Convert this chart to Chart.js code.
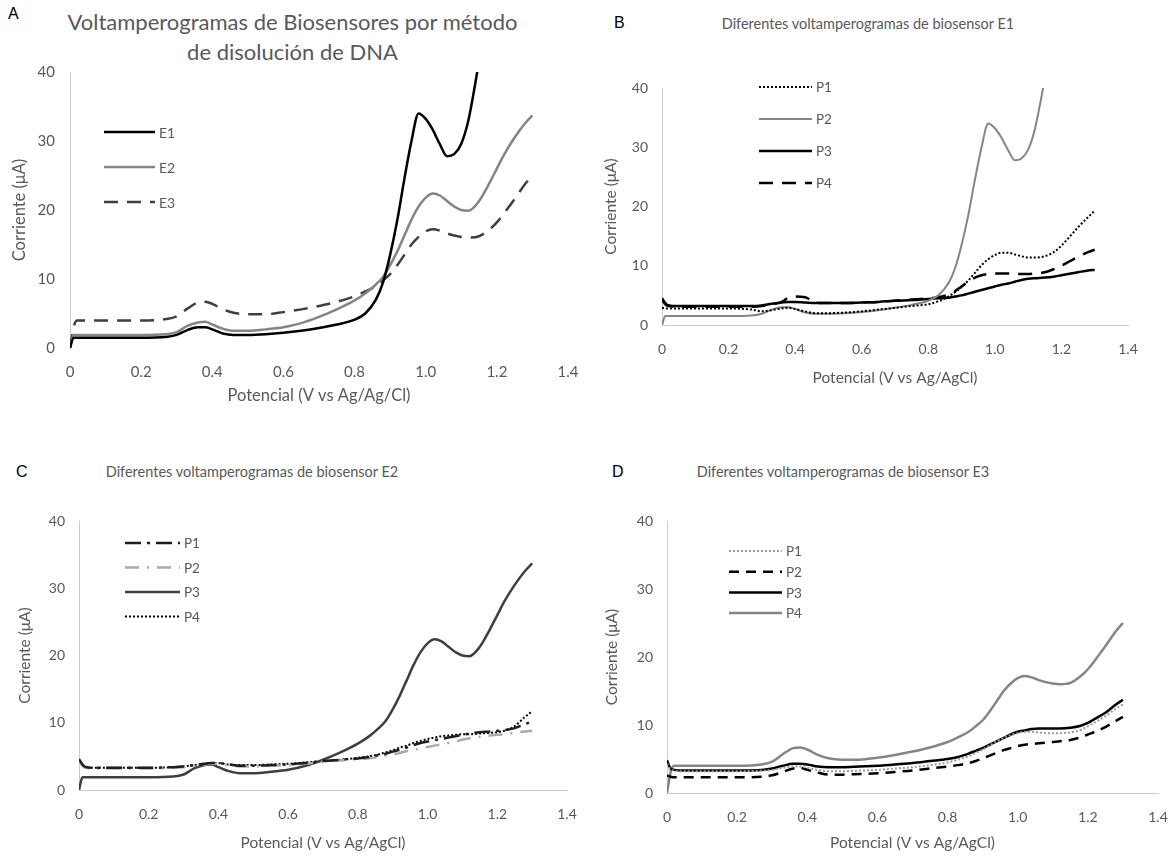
<!DOCTYPE html>
<html>
<head>
<meta charset="utf-8">
<script src="https://cdn.jsdelivr.net/npm/chart.js@4.4.1/dist/chart.umd.min.js"></script>
<style>
  body { margin: 0; width: 1170px; height: 856px; background: #fff; position: relative; overflow: hidden; font-family: Lato, sans-serif; }
  canvas { position: absolute; }
  .letter { position: absolute; font: 16px "Liberation Sans", Arial, sans-serif; color: #000; line-height: 18px; }
  .title { position: absolute; color: #595959; text-align: center; white-space: nowrap; }
</style>
</head>
<body>

<div class="letter" style="left:8px;top:5px">A</div>
<div class="letter" style="left:614px;top:14px">B</div>
<div class="letter" style="left:16px;top:463px">C</div>
<div class="letter" style="left:612px;top:463px">D</div>

<div class="title" style="left:0;width:585px;top:7px;font-size:22px;line-height:30px">Voltamperogramas de Biosensores por método<br>de disolución de DNA</div>
<div class="title" style="left:590px;width:556px;top:15px;font-size:14.5px;line-height:18px">Diferentes voltamperogramas de biosensor E1</div>
<div class="title" style="left:0;width:504px;top:463px;font-size:14.5px;line-height:18px">Diferentes voltamperogramas de biosensor E2</div>
<div class="title" style="left:590px;width:506px;top:463px;font-size:14.5px;line-height:18px">Diferentes voltamperogramas de biosensor E3</div>

<canvas id="chartA"></canvas>
<canvas id="chartB"></canvas>
<canvas id="chartC"></canvas>
<canvas id="chartD"></canvas>

<script>
// Potencial (V vs Ag/AgCl) shared by every scan
const potencial = [0, 0.01, 0.02, 0.05, 0.1, 0.2, 0.27, 0.3, 0.33, 0.36,
  0.38, 0.4, 0.43, 0.46, 0.5, 0.55, 0.6, 0.65, 0.7, 0.75,
  0.8, 0.83, 0.86, 0.88, 0.9, 0.92, 0.94, 0.96, 0.98, 1.0,
  1.02, 1.04, 1.06, 1.08, 1.1, 1.12, 1.15, 1.18, 1.2, 1.22,
  1.25, 1.28, 1.3];

// Corriente (uA) - biosensor E1
const e1p1 = [2.9, 2.8, 2.8, 2.8, 2.8, 2.8, 2.6, 2.3, 2.5, 2.8,
  2.9, 2.7, 2.3, 2.0, 2.0, 2.1, 2.3, 2.6, 2.9, 3.2,
  3.5, 4.0, 4.8, 5.5, 6.4, 7.5, 8.8, 10.1, 11.1, 11.8,
  12.2, 12.2, 11.9, 11.6, 11.4, 11.4, 11.6, 12.4, 13.4, 14.6,
  16.5, 18.2, 19.3];
const e1p2 = [0, 1.5, 1.5, 1.5, 1.5, 1.5, 1.6, 1.9, 2.6, 3.0,
  3.0, 2.7, 2.1, 1.9, 1.9, 2.0, 2.2, 2.5, 2.9, 3.4,
  4.1, 5.0, 7.0, 9.5, 13.5, 18.5, 24.5, 30.0, 34.0, 33.2,
  31.6, 29.5, 27.8, 28.1, 29.6, 33.0, 41.5, null, null, null,
  null, null, null];
const e1p3 = [4.5, 3.7, 3.3, 3.2, 3.2, 3.2, 3.2, 3.3, 3.6, 3.8,
  3.9, 3.9, 3.8, 3.7, 3.7, 3.7, 3.8, 3.9, 4.1, 4.2,
  4.4, 4.5, 4.6, 4.8, 5.0, 5.3, 5.6, 5.9, 6.2, 6.5,
  6.8, 7.0, 7.3, 7.6, 7.8, 7.9, 8.0, 8.2, 8.4, 8.6,
  8.9, 9.2, 9.3];
const e1p4 = [4.2, 3.5, 3.2, 3.1, 3.1, 3.1, 3.1, 3.2, 3.5, 3.9,
  4.6, 4.8, 4.7, 3.8, 3.7, 3.7, 3.8, 3.9, 4.1, 4.3,
  4.5, 4.7, 5.1, 5.7, 6.5, 7.3, 8.0, 8.4, 8.6, 8.7,
  8.7, 8.7, 8.6, 8.6, 8.6, 8.7, 8.9, 9.5, 10.0, 10.6,
  11.5, 12.3, 12.7];

// Corriente (uA) - biosensor E2
const e2p1 = [4.6, 3.8, 3.4, 3.3, 3.3, 3.3, 3.4, 3.5, 3.7, 3.9,
  4.0, 4.0, 3.8, 3.6, 3.6, 3.7, 3.8, 4.0, 4.3, 4.5,
  4.7, 4.9, 5.2, 5.4, 5.7, 6.0, 6.3, 6.7, 7.0, 7.2,
  7.4, 7.6, 7.8, 8.0, 8.2, 8.4, 8.6, 8.7, 8.8, 8.9,
  9.2, 9.8, 10.2];
const e2p2 = [4.4, 3.6, 3.3, 3.2, 3.2, 3.2, 3.3, 3.4, 3.6, 3.8,
  3.9, 3.9, 3.7, 3.5, 3.5, 3.6, 3.7, 3.9, 4.2, 4.4,
  4.6, 4.7, 4.9, 5.1, 5.3, 5.5, 5.8, 6.0, 6.2, 6.4,
  6.6, 6.8, 7.0, 7.2, 7.5, 7.7, 7.9, 8.1, 8.2, 8.3,
  8.5, 8.7, 8.8];
const e2p3 = [0, 1.9, 1.9, 1.9, 1.9, 1.9, 2.0, 2.3, 3.2, 3.7,
  3.8, 3.4, 2.8, 2.5, 2.5, 2.7, 3.0, 3.6, 4.5, 5.6,
  6.9, 7.9, 9.2, 10.3, 12.0, 14.0, 16.3, 18.6, 20.5, 21.8,
  22.4, 22.1, 21.3, 20.5, 20.0, 19.9, 21.3, 24.0, 26.0, 28.0,
  30.5, 32.6, 33.7];
const e2p4 = [4.5, 3.6, 3.3, 3.3, 3.3, 3.3, 3.4, 3.5, 3.7, 3.9,
  4.0, 4.0, 3.8, 3.7, 3.7, 3.8, 3.9, 4.1, 4.3, 4.5,
  4.8, 5.0, 5.3, 5.6, 5.9, 6.3, 6.6, 7.0, 7.3, 7.6,
  7.8, 8.0, 8.1, 8.2, 8.3, 8.3, 8.4, 8.5, 8.6, 8.8,
  9.5, 10.9, 11.7];

// Corriente (uA) - biosensor E3
const e3p1 = [4.3, 3.5, 3.3, 3.2, 3.2, 3.2, 3.3, 3.4, 3.7, 3.9,
  3.9, 3.7, 3.4, 3.2, 3.2, 3.3, 3.4, 3.6, 3.8, 4.1,
  4.5, 4.9, 5.4, 5.9, 6.4, 7.0, 7.6, 8.1, 8.5, 8.8,
  9.0, 9.0, 8.9, 8.8, 8.8, 8.8, 8.9, 9.3, 9.8, 10.4,
  11.3, 12.4, 13.0];
const e3p2 = [2.6, 2.4, 2.3, 2.3, 2.3, 2.3, 2.4, 2.6, 3.1, 3.6,
  3.7, 3.4, 3.0, 2.7, 2.7, 2.8, 2.9, 3.1, 3.3, 3.6,
  3.9, 4.1, 4.4, 4.7, 5.1, 5.5, 5.9, 6.3, 6.6, 6.9,
  7.1, 7.2, 7.3, 7.4, 7.5, 7.6, 7.8, 8.2, 8.6, 9.0,
  9.7, 10.6, 11.2];
const e3p3 = [4.8, 3.6, 3.4, 3.3, 3.3, 3.3, 3.4, 3.6, 4.0, 4.3,
  4.3, 4.2, 3.9, 3.8, 3.8, 3.9, 4.0, 4.2, 4.4, 4.7,
  5.0, 5.3, 5.8, 6.2, 6.6, 7.1, 7.6, 8.1, 8.6, 9.0,
  9.2, 9.4, 9.5, 9.5, 9.5, 9.5, 9.6, 9.9, 10.3, 10.9,
  11.8, 13.0, 13.7];
const e3p4 = [0, 3.0, 4.0, 4.0, 4.0, 4.0, 4.2, 4.6, 5.7, 6.6,
  6.7, 6.4, 5.6, 5.1, 4.9, 4.9, 5.2, 5.6, 6.1, 6.7,
  7.5, 8.2, 9.0, 9.8, 10.7, 12.0, 13.5, 15.0, 16.1, 16.9,
  17.2, 17.0, 16.6, 16.3, 16.1, 16.0, 16.2, 17.2, 18.2, 19.5,
  21.6, 23.8, 25.0];

// Axis ticks
const yTicks = [0, 10, 20, 30, 40];
const xTicks = [0, 0.2, 0.4, 0.6, 0.8, 1, 1.2, 1.4];

const TEXT = '#595959';
const AXIS = '#cccccc';

// Legend drawn inside the plot, one row per dataset
const inlineLegend = {
  id: 'inlineLegend',
  afterDatasetsDraw(chart, args, o) {
    const ctx = chart.ctx;
    ctx.save();
    chart.data.datasets.forEach((ds, i) => {
      const y = o.y + i * o.gap;
      ctx.beginPath();
      ctx.setLineDash(ds.borderDash || []);
      ctx.lineWidth = ds.borderWidth;
      ctx.strokeStyle = ds.borderColor;
      ctx.moveTo(o.x, y);
      ctx.lineTo(o.x + o.len, y);
      ctx.stroke();
      ctx.setLineDash([]);
      ctx.fillStyle = TEXT;
      ctx.font = o.font;
      ctx.textBaseline = 'middle';
      ctx.fillText(ds.label, o.x + o.len + 4, y + 1);
    });
    ctx.restore();
  }
};

function series(label, values, color, width, dash) {
  return {
    label,
    data: potencial.map((x, i) => ({ x, y: values[i] })),
    borderColor: color,
    borderWidth: width,
    borderDash: dash || [],
    pointRadius: 0,
    cubicInterpolationMode: 'monotone',
    fill: false
  };
}

// box: canvas placement, area: plot rectangle, both in page pixels
function makePanel(id, box, area, datasets, cfg) {
  const canvas = document.getElementById(id);
  canvas.width = box.w;
  canvas.height = box.h;
  canvas.style.left = box.x + 'px';
  canvas.style.top = box.y + 'px';

  const tickFont = { family: 'Lato', size: cfg.tickSize };
  const titleFont = { family: 'Lato', size: cfg.titleSize, lineHeight: 1.2 };
  const lh = cfg.titleSize * 1.2;

  new Chart(canvas, {
    type: 'line',
    data: { datasets },
    options: {
      responsive: false,
      animation: false,
      devicePixelRatio: 1,
      layout: { padding: { top: area.top - box.y, right: box.x + box.w - area.right, left: 0, bottom: 0 } },
      plugins: {
        legend: { display: false },
        tooltip: { enabled: false },
        inlineLegend: { x: cfg.legend.x - box.x, y: cfg.legend.y - box.y, gap: cfg.legend.gap, len: cfg.legend.len, font: cfg.legendSize + 'px Lato' }
      },
      scales: {
        x: {
          type: 'linear', min: 0, max: 1.4,
          afterBuildTicks: s => { s.ticks = xTicks.map(v => ({ value: v })); },
          ticks: { color: TEXT, font: tickFont, padding: cfg.xTickPad, maxRotation: 0, autoSkip: false },
          grid: { display: false, drawTicks: false },
          border: { display: cfg.xBorder, color: AXIS, width: 1 },
          title: { display: true, text: cfg.xTitle, color: TEXT, font: titleFont,
                   padding: { top: 0, bottom: box.y + box.h - cfg.xTitleY - lh / 2 } },
          afterFit: s => { s.height = box.y + box.h - area.bottom; s.paddingLeft = 0; s.paddingRight = 0; }
        },
        y: {
          min: 0, max: 40,
          afterBuildTicks: s => { s.ticks = yTicks.map(v => ({ value: v })); },
          ticks: { color: TEXT, font: tickFont, padding: cfg.yTickPad },
          grid: { display: false, drawTicks: false },
          border: { display: true, color: AXIS, width: 1 },
          title: { display: true, text: 'Corriente (μA)', color: TEXT, font: titleFont,
                   padding: { top: cfg.yTitleX - box.x - lh / 2, bottom: 0 } },
          afterFit: s => { s.width = area.left - box.x; s.paddingTop = 0; s.paddingBottom = 0; }
        }
      }
    },
    plugins: [inlineLegend]
  });
}

const BLACK = '#000000';
const GRAY = '#858585';
const DARK = '#3f3f3f';

makePanel('chartA',
  { x: 0, y: 0, w: 585, h: 420 },
  { left: 70, right: 568, top: 72, bottom: 348 },
  [
    series('E1', e1p2, BLACK, 2.5),
    series('E2', e2p3, GRAY, 2.5),
    series('E3', e3p4, DARK, 2.5, [14, 9])
  ],
  { tickSize: 15, titleSize: 16.5, legendSize: 14, xTitle: 'Potencial (V vs Ag/Ag/Cl)',
    xTitleY: 396, yTitleX: 20, xTickPad: 15, yTickPad: 15, xBorder: false,
    legend: { x: 104, y: 132, gap: 35, len: 51 } });

makePanel('chartB',
  { x: 590, y: 40, w: 580, h: 390 },
  { left: 662, right: 1128, top: 88, bottom: 325 },
  [
    series('P1', e1p1, BLACK, 2, [2, 2]),
    series('P2', e1p2, GRAY, 2),
    series('P3', e1p3, BLACK, 2.5),
    series('P4', e1p4, BLACK, 2.5, [14, 9])
  ],
  { tickSize: 14, titleSize: 15.5, legendSize: 13.5, xTitle: 'Potencial (V vs Ag/AgCl)',
    xTitleY: 378, yTitleX: 611, xTickPad: 16, yTickPad: 14, xBorder: true,
    legend: { x: 759, y: 87, gap: 32, len: 53 } });

makePanel('chartC',
  { x: 0, y: 490, w: 585, h: 366 },
  { left: 79, right: 567, top: 521, bottom: 790 },
  [
    series('P1', e2p1, '#1e1e1e', 2.5, [16, 6, 3, 6]),
    series('P2', e2p2, '#ababab', 2.5, [14, 8, 2, 8]),
    series('P3', e2p3, DARK, 2.5),
    series('P4', e2p4, BLACK, 2, [2, 2])
  ],
  { tickSize: 14, titleSize: 15.5, legendSize: 13.5, xTitle: 'Potencial (V vs Ag/AgCl)',
    xTitleY: 843, yTitleX: 25, xTickPad: 16, yTickPad: 14, xBorder: true,
    legend: { x: 125, y: 543, gap: 24.5, len: 55 } });

makePanel('chartD',
  { x: 590, y: 490, w: 580, h: 366 },
  { left: 667, right: 1158, top: 521, bottom: 793 },
  [
    series('P1', e3p1, '#9a9a9a', 2, [2, 2]),
    series('P2', e3p2, BLACK, 2.5, [10, 7]),
    series('P3', e3p3, BLACK, 2.5),
    series('P4', e3p4, GRAY, 2.5)
  ],
  { tickSize: 14, titleSize: 15.5, legendSize: 13.5, xTitle: 'Potencial (V vs Ag/AgCl)',
    xTitleY: 843, yTitleX: 612, xTickPad: 16, yTickPad: 14, xBorder: true,
    legend: { x: 729, y: 551, gap: 20.7, len: 53 } });
</script>
</body>
</html>
